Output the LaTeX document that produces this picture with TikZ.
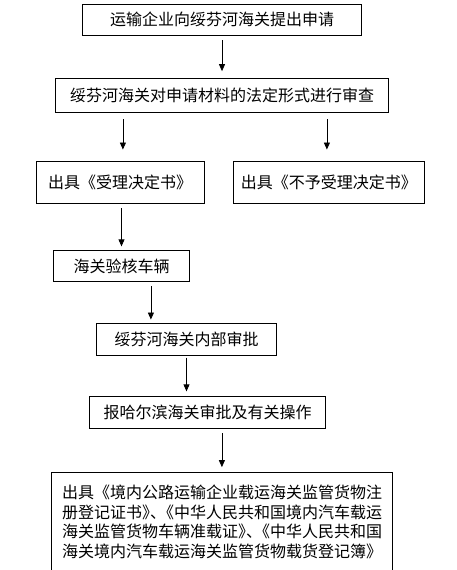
\documentclass[tikz,border=0pt]{standalone}
\usepackage{fontspec}
\setmainfont{Noto Sans CJK SC}
\usepackage{tikz}
\usetikzlibrary{arrows.meta, positioning}
\newcommand{\dunhao}{\hspace{-0.5em}、\hspace{-0.5em}}

\begin{document}
\begin{tikzpicture}[
    x=1pt, y=-1pt,
    node distance=40pt,
    stepbox/.style={rectangle, draw=black, line width=0.8pt, inner sep=0pt, text centered, font=\fontsize{16}{19.5}\selectfont},
    arrow/.style={-{Triangle[length=7pt, width=6pt]}, line width=0.8pt, shorten <=5pt, shorten >=5pt}
]
\useasboundingbox (0,0) rectangle (457,570);

\node[stepbox, minimum width=278.6pt, minimum height=30.7pt] (apply) at (222,19.7) {运输企业向绥芬河海关提出申请};
\node[stepbox, minimum width=333pt, minimum height=34.7pt, below=42.3pt of apply] (review) {绥芬河海关对申请材料的法定形式进行审查};
\node[stepbox, minimum width=168.6pt, minimum height=42pt, below=47.3pt of review, xshift=-101.8pt] (accept) {出具《受理决定书》};
\node[stepbox, minimum width=191pt, minimum height=42pt, right=28pt of accept] (reject) {出具《不予受理决定书》};
\node[stepbox, minimum width=136pt, minimum height=31pt, below=47pt of accept, xshift=1.3pt] (inspect) {海关验核车辆};
\node[stepbox, minimum width=180pt, minimum height=32pt, below=41pt of inspect, xshift=65pt] (internal) {绥芬河海关内部审批};
\node[stepbox, minimum width=236pt, minimum height=31.3pt, below=40.4pt of internal, xshift=21pt] (harbin) {报哈尔滨海关审批及有关操作};
\node[stepbox, minimum width=341pt, minimum height=98.3pt, below=43.7pt of harbin, xshift=14.5pt, align=left] (issue) {出具《境内公路运输企业载运海关监管货物注\\册登记证书》\dunhao《中华人民共和国境内汽车载运\\海关监管货物车辆准载证》\dunhao《中华人民共和国\\海关境内汽车载运海关监管货物载货登记簿》};

\draw[arrow, shorten >=6.6pt] (apply.south) -- (apply.south |- review.north);
\draw[arrow, shorten <=6pt, shorten >=11pt] ([xshift=-99.1pt]review.south) -- ([xshift=-99.1pt]review.south |- accept.north);
\draw[arrow, shorten <=6pt, shorten >=11pt] ([xshift=104.9pt]review.south) -- ([xshift=104.9pt]review.south |- reject.north);
\draw[arrow, shorten >=4pt] ([xshift=1.3pt]accept.south) -- ([xshift=1.3pt]accept.south |- inspect.north);
\draw[arrow, shorten <=4pt, shorten >=3.6pt] ([xshift=29.4pt]inspect.south) -- ([xshift=29.4pt]inspect.south |- internal.north);
\draw[arrow, shorten <=1.7pt] (internal.south) -- (internal.south |- harbin.north);
\draw[arrow] ([xshift=14.4pt]harbin.south) -- ([xshift=14.4pt]harbin.south |- issue.north);

\end{tikzpicture}
\end{document}
